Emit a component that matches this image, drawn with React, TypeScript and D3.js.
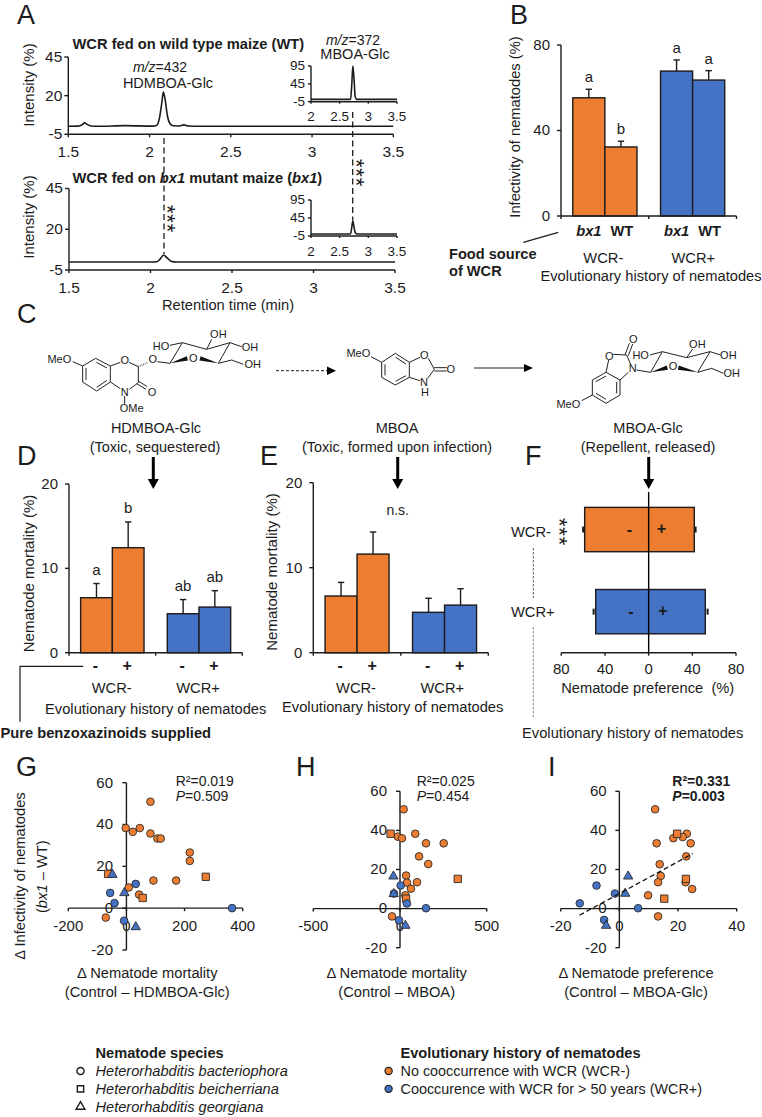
import React, { useEffect, useRef } from 'react';
import * as d3 from 'd3';

const ORANGE = '#ed7d31';
const BLUE = '#4472c4';
const INK = '#1c1c1c';
const FONT = '"Liberation Sans", Arial, sans-serif';

// A: chromatograms
const wtMainX = [1.5, 1.56, 1.585, 1.6, 1.615, 1.64, 1.68, 1.85, 2.02, 2.045, 2.06, 2.075, 2.085, 2.095, 2.11, 2.125, 2.145, 2.18, 2.21, 2.24, 2.3, 3.5];
const wtMainY = [0.2, 0.3, 1.2, 2.4, 1.4, 0.4, 0.2, 0.6, 0.3, 0.9, 5, 15, 22.3, 18, 7, 2, 0.5, 0.4, 1.1, 0.4, 0.2, 0.2];
const bx1MainX = [1.5, 2, 2.04, 2.06, 2.08, 2.1, 2.125, 2.16, 3.5];
const bx1MainY = [-0.1, -0.1, 0.1, 1.8, 4.2, 2.6, 0.4, -0.1, -0.1];
const insetX = [2, 2.66, 2.69, 2.71, 2.73, 2.75, 2.77, 2.8, 3.5];
const wtInsetY = [1.5, 1.5, 2, 40, 95, 60, 10, 1.5, 1.5];
const bx1InsetY = [0.5, 0.5, 1, 18, 37, 20, 5, 0.5, 0.5];
const mainXTicks = [1.5, 2, 2.5, 3, 3.5];
const mainYTicks = [-5, 20, 45];
const insetXTicks = [2, 2.5, 3, 3.5];
const insetYTicks = [-5, 45, 95];

// bars
const historyGroups = ['WCR-', 'WCR+'];
const foodSource = ['bx1', 'WT'];
const supplied = ['-', '+'];
const infectivity = [55.3, 32.3, 67.8, 63.6];
const infectivityTop = [59.3, 35, 73, 68];
const infectivityLetters = ['a', 'b', 'a', 'a'];
const hdmboaMortality = [6.52, 12.45, 4.62, 5.41];
const hdmboaMortalityTop = [8.2, 15.5, 6.3, 7.35];
const hdmboaLetters = ['a', 'b', 'ab', 'ab'];
const mboaMortality = [6.67, 11.6, 4.75, 5.6];
const mboaMortalityTop = [8.27, 14.2, 6.4, 7.53];
const preferenceMinus = [58.6, 48.5];
const preferenceMinusErr = [60, 50.4];
const preferencePlus = [41.8, 51.9];
const preferencePlusErr = [43, 54];
const preferenceTicks = [-80, -40, 0, 40, 80];

// G: mortality HDMBOA-Glc vs infectivity
const gOrangeCircles: [number, number][] = [[82.6, 50.9], [-2.3, 38.3], [21.8, 36.5], [45.9, 38.3], [82.6, 35.7], [106.6, 33.3], [118, 33.3], [218, 26.6], [218, 22.6], [92.9, 13.2], [171, 13.2], [8, 9.9], [43.6, 6.5], [-71, -4.5]];
const gOrangeSquares: [number, number][] = [[-63, 16.4], [56, 4.9], [273, 15]];
const gBlueCircles: [number, number][] = [[32, 11.6], [-56, 7.3], [-41, 2.4], [363.5, 0], [-8, -6]];
const gBlueTriangles: [number, number][] = [[-48, 16], [-7, 7.3], [32, -9]];

// H: mortality MBOA vs infectivity
const hOrangeCircles: [number, number][] = [[21, 50.8], [88, 38.3], [-13, 36.8], [11.5, 36], [150, 33.4], [252, 33.4], [110, 26.7], [163, 22.8], [35, 16.9], [40, 13.3], [98, 13.5], [63, 10.2], [31, 6.8], [-46, -4]];
const hOrangeSquares: [number, number][] = [[-54, 38.3], [35, 5.1], [333, 15.2]];
const hBlueCircles: [number, number][] = [[4, 11.8], [-35, 7.7], [40, 2.6], [150, 0.2], [-6, -6]];
const hBlueTriangles: [number, number][] = [[-38, 16.5], [-36, 7.5], [31, -8.7]];

// I: preference MBOA-Glc vs infectivity
const iOrangeCircles: [number, number][] = [[12.2, 50.8], [23, 38.3], [18.4, 36], [21.6, 36.6], [12.7, 33.4], [24.3, 33.4], [22.8, 26.7], [13.75, 22.7], [14.1, 16.7], [13.2, 13.5], [22.6, 13.5], [24.8, 10], [9.8, 6.8], [13.2, -4]];
const iOrangeSquares: [number, number][] = [[19.7, 38.3], [22.7, 15.2], [15.3, 5.1]];
const iBlueCircles: [number, number][] = [[-7.8, 11.8], [-1.5, 7.7], [-13.5, 2.7], [6.4, 0.2], [-5.2, -5.8]];
const iBlueTriangles: [number, number][] = [[3, 16.5], [2, 7.7], [-4.5, -8.7]];
const iTrendX = [-13.6, 25];
const iTrendY = [-3.4, 28.1];

const speciesNames = ['Heterorhabditis bacteriophora', 'Heterorhabditis beicherriana', 'Heterorhabditis georgiana'];
const historyNames = ['No cooccurrence with WCR (WCR-)', 'Cooccurence with WCR for > 50 years (WCR+)'];

type Sel = d3.Selection<any, any, any, any>;
type Part = { t: string; i?: boolean; b?: boolean };

const text = (g: Sel, s: string | Part[], x: number, y: number, size = 14.7, o: { anchor?: string; weight?: string; italic?: boolean; rotate?: boolean; fill?: string } = {}) => {
    const el = g.append('text')
        .attr('x', x)
        .attr('y', y)
        .attr('font-size', size)
        .attr('fill', o.fill || INK)
        .attr('text-anchor', o.anchor || 'middle')
        .attr('font-weight', o.weight || 'normal')
        .attr('font-style', o.italic ? 'italic' : 'normal');
    if (o.rotate) el.attr('transform', `rotate(-90 ${x} ${y})`);
    if (typeof s === 'string') el.text(s);
    else s.forEach(p => {
        el.append('tspan')
            .attr('font-style', p.i ? 'italic' : 'normal')
            .attr('font-weight', p.b ? 'bold' : o.weight || 'normal')
            .text(p.t);
    });
    return el;
};

const styleAxis = (a: Sel, size: number, sw = 1.4) => {
    a.attr('font-family', FONT).attr('font-size', size);
    a.selectAll('text').attr('fill', INK);
    a.selectAll('line').attr('stroke', INK).attr('stroke-width', sw);
    a.select('.domain').attr('stroke', INK).attr('stroke-width', sw);
};

const leftAxis = (g: Sel, y: d3.ScaleLinear<number, number>, at: number, ticks: number[], size = 15, tick = 4, pad = 4) => {
    const a = g.append('g')
        .attr('transform', `translate(${at},0)`)
        .call(d3.axisLeft(y).tickValues(ticks).tickFormat(d => String(d)).tickSize(tick).tickSizeOuter(0).tickPadding(pad).offset(0));
    styleAxis(a, size);
};

const bottomAxis = (g: Sel, x: d3.ScaleLinear<number, number>, at: number, ticks: number[], size = 15, tick = 3, pad = 5, fmt: (d: number) => string = d => String(d)) => {
    const a = g.append('g')
        .attr('transform', `translate(0,${at})`)
        .call(d3.axisBottom(x).tickValues(ticks).tickFormat(d => fmt(+d)).tickSize(tick).tickSizeOuter(0).tickPadding(pad).offset(0));
    styleAxis(a, size);
};

const trace = (g: Sel, x: d3.ScaleLinear<number, number>, y: d3.ScaleLinear<number, number>, xs: number[], ys: number[], sw = 1.6) => {
    const line = d3.line<number>()
        .x(d => x(d))
        .y((_, i) => y(ys[i]))
        .curve(d3.curveMonotoneX);
    g.append('path').datum(xs)
        .attr('fill', 'none')
        .attr('stroke', INK)
        .attr('stroke-width', sw)
        .attr('d', line);
};

// three asterisks stacked downwards, top is where the first one starts
const stars = (g: Sel, cx: number, top: number, size = 22) => {
    g.append('text')
        .attr('x', 0)
        .attr('y', 0)
        .attr('transform', `translate(${cx - size * 0.57},${top}) rotate(90)`)
        .attr('font-size', size)
        .attr('letter-spacing', 0.8)
        .attr('fill', INK)
        .text('***');
};

const downArrow = (g: Sel, x: number, y0: number, y1: number) => {
    g.append('line').attr('x1', x).attr('x2', x).attr('y1', y0).attr('y2', y1 - 8)
        .attr('stroke', 'black').attr('stroke-width', 3);
    g.append('path')
        .attr('d', `M${x - 5.5},${y1 - 10}L${x + 5.5},${y1 - 10}L${x},${y1}Z`)
        .attr('fill', 'black');
};

const barPanel = (root: Sel, o: { left: number; right: number; top: number; bottom: number; max: number; ticks: number[]; vals: number[]; tops: number[] }) => {
    const y = d3.scaleLinear().domain([0, o.max]).range([o.bottom, o.top]);
    const x0 = d3.scaleBand<string>().domain(historyGroups).range([o.left, o.right]);
    const x1 = d3.scaleBand<string>().domain(['0', '1']).range([0, x0.bandwidth()]).paddingInner(0).paddingOuter(0.367);
    const g = root.append('g');
    historyGroups.forEach((grp, gi) => {
        [0, 1].forEach(ci => {
            const i = gi * 2 + ci;
            const bx = (x0(grp) as number) + (x1(String(ci)) as number);
            const bw = x1.bandwidth();
            g.append('line')
                .attr('x1', bx + bw / 2).attr('x2', bx + bw / 2)
                .attr('y1', y(o.vals[i])).attr('y2', y(o.tops[i]))
                .attr('stroke', INK).attr('stroke-width', 1.4);
            g.append('line')
                .attr('x1', bx + bw / 2 - 3.2).attr('x2', bx + bw / 2 + 3.2)
                .attr('y1', y(o.tops[i])).attr('y2', y(o.tops[i]))
                .attr('stroke', INK).attr('stroke-width', 1.4);
            g.append('rect')
                .attr('x', bx).attr('y', y(o.vals[i]))
                .attr('width', bw).attr('height', o.bottom - y(o.vals[i]))
                .attr('fill', gi === 0 ? ORANGE : BLUE)
                .attr('stroke', INK).attr('stroke-width', 1.4);
        });
    });
    leftAxis(g, y, o.left, o.ticks, 15, 4, 7);
    const groupX = d3.scaleLinear().domain([0, 2]).range([o.left, o.right]);
    bottomAxis(g, groupX, o.bottom, [0, 1, 2], 10, 3, 3, () => '');
    return { x0, x1, y };
};

const scatterPanel = (root: Sel, o: {
    xDom: [number, number]; xRange: [number, number]; yRange: [number, number]; xTicks: number[]; labelX: number;
    orange: [number, number][]; squares: [number, number][]; blue: [number, number][]; tris: [number, number][];
}) => {
    const g = root.append('g');
    const x = d3.scaleLinear().domain(o.xDom).range(o.xRange);
    const y = d3.scaleLinear().domain([-20, 60]).range(o.yRange);
    const ticksY = [-20, 0, 20, 40, 60];
    const xa = g.append('g')
        .attr('transform', `translate(0,${y(0)})`)
        .call(d3.axisBottom(x).tickValues(o.xTicks).tickFormat(d => String(d)).tickSize(3).tickSizeOuter(0).tickPadding(9).offset(0));
    styleAxis(xa, 15);
    const ya = g.append('g')
        .attr('transform', `translate(${x(0)},0)`)
        .call(d3.axisLeft(y).tickValues(ticksY).tickFormat(d => String(d)).tickSize(4).tickSizeOuter(0).tickPadding(x(0) - o.labelX - 4).offset(0));
    styleAxis(ya, 15);
    const mark = (pts: [number, number][], type: d3.SymbolType, size: number, fill: string) => {
        g.selectAll(null).data(pts).enter().append('path')
            .attr('d', d3.symbol().type(type).size(size)())
            .attr('transform', d => `translate(${x(d[0])},${y(d[1])})`)
            .attr('fill', fill)
            .attr('stroke', '#2a2a2a')
            .attr('stroke-width', 0.9);
    };
    mark(o.orange, d3.symbolCircle, 46, ORANGE);
    mark(o.squares, d3.symbolSquare, 54, ORANGE);
    mark(o.blue, d3.symbolCircle, 46, BLUE);
    mark(o.tris, d3.symbolTriangle, 38, BLUE);
    return { g, x, y };
};

// chemical drawings, in sketch units of a third of a pixel
type Segs = number[][];
const molecule = (root: Sel, ox: number, oy: number, segs: Segs, wedges: Segs, labels: [string, number, number][], hashes: Segs = []) => {
    const g = root.append('g').attr('transform', `translate(${ox},${oy}) scale(${1 / 3})`);
    segs.forEach(s => {
        g.append('line').attr('x1', s[0]).attr('y1', s[1]).attr('x2', s[2]).attr('y2', s[3])
            .attr('stroke', '#222').attr('stroke-width', 3);
    });
    wedges.forEach(s => {
        const nx = -(s[3] - s[1]), ny = s[2] - s[0];
        const l = Math.hypot(nx, ny);
        const w = 6.5;
        g.append('path')
            .attr('d', `M${s[0]},${s[1]}L${s[2] + nx / l * w},${s[3] + ny / l * w}L${s[2] - nx / l * w},${s[3] - ny / l * w}Z`)
            .attr('fill', '#111');
    });
    hashes.forEach(s => {
        g.append('line').attr('x1', s[0]).attr('y1', s[1]).attr('x2', s[2]).attr('y2', s[3])
            .attr('stroke', '#222').attr('stroke-width', 6).attr('stroke-dasharray', '1.5,4');
    });
    labels.forEach(l => {
        g.append('text')
            .attr('x', l[1]).attr('y', l[2] + 12)
            .attr('font-size', 33)
            .attr('text-anchor', 'middle')
            .attr('fill', '#1a1a1a')
            .text(l[0]);
    });
};

const App: React.FC = () => {
    const svgRef = useRef<SVGSVGElement>(null);

    useEffect(() => {
        if (!svgRef.current) return;
        const svg = d3.select(svgRef.current);
        svg.selectAll('*').remove();
        const root: Sel = svg.append('g').attr('font-family', FONT);

        // panel letters
        ([['A', 17, 24], ['B', 510, 24], ['C', 17, 323], ['D', 17, 465], ['E', 260, 465], ['F', 525, 465], ['G', 16, 776], ['H', 296, 776], ['I', 548, 776]] as [string, number, number][])
            .forEach(l => text(root, l[0], l[1], l[2], 27, { anchor: 'start' }));

        // A, upper trace
        const ax = d3.scaleLinear().domain([1.5, 3.5]).range([68.3, 393.3]);
        const ayTop = d3.scaleLinear().domain([-5, 45]).range([134.3, 57]);
        const ax2 = d3.scaleLinear().domain([1.5, 3.5]).range([69, 395]);
        const ayBot = d3.scaleLinear().domain([-5, 45]).range([270, 188.5]);
        const a = root.append('g');
        leftAxis(a, ayTop, 68.3, mainYTicks, 15.5, 4, 2);
        bottomAxis(a, ax, 134.3, mainXTicks, 15.5, 3, 8.7);
        trace(a, ax, ayTop, wtMainX, wtMainY);
        leftAxis(a, ayBot, 69, mainYTicks, 15.5, 4, 2);
        bottomAxis(a, ax2, 270, mainXTicks, 15.5, 3, 9);
        trace(a, ax2, ayBot, bx1MainX, bx1MainY);

        // A, insets
        const ix = d3.scaleLinear().domain([2, 3.5]).range([311, 397]);
        const iyTop = d3.scaleLinear().domain([-5, 95]).range([101.7, 66]);
        const iyBot = d3.scaleLinear().domain([-5, 95]).range([236, 200]);
        leftAxis(a, iyTop, 311, insetYTicks, 13.5, 3, 3);
        bottomAxis(a, ix, 101.7, insetXTicks, 13.5, 2, 7.8);
        trace(a, ix, iyTop, insetX, wtInsetY);
        leftAxis(a, iyBot, 311, insetYTicks, 13.5, 3, 3);
        bottomAxis(a, ix, 236, insetXTicks, 13.5, 2, 8.8);
        trace(a, ix, iyBot, insetX, bx1InsetY);

        a.append('line').attr('x1', 164).attr('x2', 164).attr('y1', 138).attr('y2', 254)
            .attr('stroke', INK).attr('stroke-width', 1.3).attr('stroke-dasharray', '6,3.5');
        a.append('line').attr('x1', 352.7).attr('x2', 352.7).attr('y1', 112).attr('y2', 220)
            .attr('stroke', INK).attr('stroke-width', 1.3).attr('stroke-dasharray', '6,3.5');
        stars(a, 362, 159);
        stars(a, 173, 205);

        text(a, 'WCR fed on wild type maize (WT)', 72.5, 49, 14.7, { anchor: 'start', weight: 'bold' });
        text(a, [{ t: 'WCR fed on ' }, { t: 'bx1', i: true }, { t: ' mutant maize (' }, { t: 'bx1', i: true }, { t: ')' }], 72.5, 183, 14.7, { anchor: 'start', weight: 'bold' });
        text(a, [{ t: 'm/z', i: true }, { t: '=432' }], 160, 72, 14);
        text(a, 'HDMBOA-Glc', 168, 88, 14.5);
        text(a, [{ t: 'm/z', i: true }, { t: '=372' }], 353, 45, 14);
        text(a, 'MBOA-Glc', 355, 59, 14.5);
        text(a, 'Intensity (%)', 34, 85, 15, { rotate: true });
        text(a, 'Intensity (%)', 34, 217, 15, { rotate: true });
        text(a, 'Retention time (min)', 228, 310, 14.7);

        // B
        const b = barPanel(root, { left: 561, right: 736.5, top: 45, bottom: 216, max: 80, ticks: [0, 40, 80], vals: infectivity, tops: infectivityTop });
        const barCenter = (r: typeof b, gi: number, ci: number) => (r.x0(historyGroups[gi]) as number) + (r.x1(String(ci)) as number) + r.x1.bandwidth() / 2;
        infectivityLetters.forEach((l, i) => {
            text(root, l, barCenter(b, i >> 1, i % 2), b.y(infectivityTop[i]) - 7, 15);
        });
        historyGroups.forEach((_, gi) => foodSource.forEach((f, ci) => {
            text(root, f, barCenter(b, gi, ci) + (ci ? 1 : 0), 235.5, 14.7, { weight: 'bold', italic: f === 'bx1' });
        }));
        root.append('line').attr('x1', 523.3).attr('y1', 242.3).attr('x2', 558.3).attr('y2', 232.3)
            .attr('stroke', INK).attr('stroke-width', 1.2);
        text(root, 'Food source', 449, 258.5, 14.6, { anchor: 'start', weight: 'bold' });
        text(root, 'of WCR', 449, 276, 14.6, { anchor: 'start', weight: 'bold' });
        text(root, 'WCR-', 603.3, 263);
        text(root, 'WCR+', 693.3, 263);
        text(root, 'Evolutionary history of nematodes', 651, 280.7);
        text(root, 'Infectivity of nematodes (%)', 520, 127, 14.7, { rotate: true });

        // C
        molecule(root, 30, 330,
            [[128, 95, 158, 108], [158, 108, 197, 85], [197, 85, 241, 108], [241, 108, 241, 156], [241, 156, 200, 183], [200, 183, 158, 156], [158, 156, 158, 108],
            [168, 114, 168, 150], [199, 97, 231, 114], [231, 151, 200, 172],
            [241, 108, 271, 97], [297, 97, 325, 110], [325, 110, 325, 158], [325, 158, 298, 178], [241, 156, 271, 176],
            [325, 153, 352, 170], [320, 161, 348, 178], [284, 198, 284, 222],
            [382, 95, 420, 100], [420, 100, 457, 38], [457, 38, 530, 58], [530, 58, 600, 38], [600, 38, 565, 100], [565, 100, 605, 90], [605, 90, 640, 103],
            [600, 38, 635, 50], [530, 58, 545, 28], [457, 38, 420, 46]],
            [[420, 100, 472, 85], [565, 100, 510, 85]],
            [['MeO', 88, 88], ['O', 284, 90], ['N', 284, 186], ['O', 366, 186], ['OMe', 305, 235], ['O', 368, 88], ['O', 490, 85], ['HO', 393, 48], ['OH', 565, 13], ['OH', 660, 50], ['OH', 668, 103]],
            [[325, 110, 355, 97]]);
        molecule(root, 270, 340,
            [[303, 50, 335, 67], [335, 67, 376, 40], [376, 40, 418, 67], [418, 67, 418, 112], [418, 112, 376, 135], [376, 135, 335, 112], [335, 112, 335, 67],
            [345, 73, 345, 106], [377, 52, 408, 72], [408, 107, 377, 124],
            [418, 67, 450, 52], [475, 55, 493, 88], [418, 112, 450, 122], [473, 115, 493, 88], [493, 83, 530, 83], [493, 93, 530, 93]],
            [],
            [['MeO', 265, 38], ['O', 463, 46], ['O', 542, 88], ['N', 462, 125], ['H', 465, 155]]);
        molecule(root, 510, 335,
            [[215, 197, 247, 180], [247, 135, 288, 112], [288, 112, 330, 135], [330, 135, 330, 180], [330, 180, 288, 205], [288, 205, 247, 180], [247, 180, 247, 135],
            [257, 140, 288, 123], [320, 141, 320, 175], [258, 175, 288, 193],
            [288, 112, 296, 75], [310, 58, 350, 60], [350, 60, 362, 88], [355, 112, 330, 135], [345, 60, 358, 25], [355, 62, 368, 27],
            [380, 105, 422, 112], [422, 112, 457, 50], [457, 50, 530, 68], [530, 68, 600, 50], [600, 50, 563, 112], [563, 112, 605, 100], [605, 100, 640, 115],
            [600, 50, 632, 60], [530, 68, 548, 42], [457, 50, 420, 60]],
            [[422, 112, 472, 98], [563, 112, 505, 98]],
            [['MeO', 175, 207], ['O', 298, 62], ['O', 370, 12], ['N', 368, 100], ['O', 489, 92], ['HO', 392, 60], ['OH', 562, 28], ['OH', 655, 60], ['OH', 665, 113]]);
        text(root, 'HDMBOA-Glc', 156, 433, 14.5);
        text(root, '(Toxic, sequestered)', 155, 452, 14.5);
        text(root, 'MBOA', 397, 433, 14.5);
        text(root, '(Toxic, formed upon infection)', 397, 452, 14.5);
        text(root, 'MBOA-Glc', 648, 433, 14.5);
        text(root, '(Repellent, released)', 648, 452, 14.5);
        // pathway arrows
        root.append('line').attr('x1', 276).attr('x2', 327).attr('y1', 370.7).attr('y2', 370.7)
            .attr('stroke', INK).attr('stroke-width', 1).attr('stroke-dasharray', '3,2');
        root.append('path').attr('d', 'M327,366.5L336,370.7L327,375Z').attr('fill', 'black');
        root.append('line').attr('x1', 474).attr('x2', 524).attr('y1', 368).attr('y2', 368)
            .attr('stroke', INK).attr('stroke-width', 1);
        root.append('path').attr('d', 'M524,364L533,368L524,372Z').attr('fill', 'black');
        downArrow(root, 153.3, 457, 489);
        downArrow(root, 397.7, 457, 489);
        downArrow(root, 648.7, 457, 489);

        // D
        const d = barPanel(root, { left: 69, right: 242.3, top: 484, bottom: 652.7, max: 20, ticks: [0, 10, 20], vals: hdmboaMortality, tops: hdmboaMortalityTop });
        hdmboaLetters.forEach((l, i) => {
            text(root, l, barCenter(d, i >> 1, i % 2), d.y(hdmboaMortalityTop[i]) - 8.5, 15);
        });
        const signRow = (r: typeof d) => historyGroups.forEach((_, gi) => supplied.forEach((s, ci) => {
            text(root, s, barCenter(r, gi, ci) - 1, 671, 16, { weight: 'bold' });
        }));
        signRow(d);
        text(root, 'WCR-', 111.7, 693);
        text(root, 'WCR+', 198, 693);
        text(root, 'Evolutionary history of nematodes', 155.7, 714.3);
        text(root, 'Nematode mortality (%)', 34, 573.5, 15, { rotate: true });
        root.append('path').attr('d', 'M83.3,666.3H20V721.7').attr('fill', 'none').attr('stroke', INK).attr('stroke-width', 1.2);
        text(root, 'Pure benzoxazinoids supplied', 0.5, 737.7, 14.7, { anchor: 'start', weight: 'bold' });

        // E
        const e = barPanel(root, { left: 313.3, right: 488.3, top: 482.7, bottom: 652.7, max: 20, ticks: [0, 10, 20], vals: mboaMortality, tops: mboaMortalityTop });
        signRow(e);
        text(root, 'n.s.', 397.7, 515, 14);
        text(root, 'WCR-', 356, 693);
        text(root, 'WCR+', 442.3, 693);
        text(root, 'Evolutionary history of nematodes', 392.7, 712.3);
        text(root, 'Nematode mortality (%)', 276.7, 572, 15, { rotate: true });

        // F
        const fx = d3.scaleLinear().domain([-80, 80]).range([561.3, 736]);
        const fy = d3.scaleBand<string>().domain(historyGroups).range([488.5, 652.7]).paddingInner(0.46).paddingOuter(0.23);
        const f = root.append('g');
        historyGroups.forEach((grp, i) => {
            const top = fy(grp) as number;
            const mid = top + fy.bandwidth() / 2;
            [-preferenceMinusErr[i], preferencePlusErr[i]].forEach(v => {
                f.append('line').attr('x1', fx(v)).attr('x2', fx(v)).attr('y1', mid - 3).attr('y2', mid + 3)
                    .attr('stroke', INK).attr('stroke-width', 2);
            });
            f.append('rect')
                .attr('x', fx(-preferenceMinus[i])).attr('y', top)
                .attr('width', fx(preferencePlus[i]) - fx(-preferenceMinus[i]))
                .attr('height', fy.bandwidth())
                .attr('fill', i === 0 ? ORANGE : BLUE)
                .attr('stroke', INK).attr('stroke-width', 1.4);
            text(f, '-', i === 0 ? 629.3 : 631, mid + 5, 16, { weight: 'bold' });
            text(f, '+', i === 0 ? 661.3 : 663, mid + 4, 16, { weight: 'bold' });
            text(f, grp, 511, i === 0 ? 536.7 : 616.7, 14.7, { anchor: 'start' });
        });
        f.append('line').attr('x1', fx(0)).attr('x2', fx(0)).attr('y1', 492).attr('y2', 652.7)
            .attr('stroke', 'black').attr('stroke-width', 1.4);
        bottomAxis(f, fx, 652.7, preferenceTicks, 15, 3, 7.6, v => String(Math.abs(v)));
        stars(f, 565, 518);
        f.append('line').attr('x1', 533.3).attr('x2', 533.3).attr('y1', 548).attr('y2', 598)
            .attr('stroke', '#444').attr('stroke-width', 0.9).attr('stroke-dasharray', '2.5,1.5');
        f.append('line').attr('x1', 533.3).attr('x2', 533.3).attr('y1', 627).attr('y2', 717)
            .attr('stroke', '#777').attr('stroke-width', 0.9).attr('stroke-dasharray', '2.5,1.5');
        text(f, 'Nematode preference  (%)', 647.7, 692.7).style('white-space', 'pre');
        text(f, 'Evolutionary history of nematodes', 632.7, 737.7);

        // G
        scatterPanel(root, { xDom: [-200, 400], xRange: [68.3, 242.7], yRange: [950, 782.7], xTicks: [-200, 0, 200, 400], labelX: 113, orange: gOrangeCircles, squares: gOrangeSquares, blue: gBlueCircles, tris: gBlueTriangles });
        text(root, 'R²=0.019', 175.7, 785.7, 14, { anchor: 'start' });
        text(root, [{ t: 'P', i: true }, { t: '=0.509' }], 175.7, 801, 14, { anchor: 'start' });
        text(root, 'Δ Infectivity of nematodes', 25, 876, 14.7, { rotate: true });
        text(root, [{ t: '(' }, { t: 'bx1', i: true }, { t: ' – WT)' }], 46.7, 876.7, 14.7, { rotate: true });
        text(root, 'Δ Nematode mortality', 147.3, 978);
        text(root, '(Control – HDMBOA-Glc)', 147.3, 997);

        // H
        scatterPanel(root, { xDom: [-500, 500], xRange: [313.3, 486.7], yRange: [947.7, 791.3], xTicks: [-500, 0, 500], labelX: 387, orange: hOrangeCircles, squares: hOrangeSquares, blue: hBlueCircles, tris: hBlueTriangles });
        text(root, 'R²=0.025', 416.7, 785.7, 14, { anchor: 'start' });
        text(root, [{ t: 'P', i: true }, { t: '=0.454' }], 416.7, 801, 14, { anchor: 'start' });
        text(root, 'Δ Nematode mortality', 396.7, 978);
        text(root, '(Control – MBOA)', 396.7, 997);

        // I
        const iPanel = scatterPanel(root, { xDom: [-20, 40], xRange: [560.7, 736.7], yRange: [947.7, 791.3], xTicks: [-20, 0, 20, 40], labelX: 606.7, orange: iOrangeCircles, squares: iOrangeSquares, blue: iBlueCircles, tris: iBlueTriangles });
        iPanel.g.append('line')
            .attr('x1', iPanel.x(iTrendX[0])).attr('y1', iPanel.y(iTrendY[0]))
            .attr('x2', iPanel.x(iTrendX[1])).attr('y2', iPanel.y(iTrendY[1]))
            .attr('stroke', '#111').attr('stroke-width', 1.3).attr('stroke-dasharray', '5,3');
        text(root, 'R²=0.331', 672.3, 785.7, 14, { anchor: 'start', weight: 'bold' });
        text(root, [{ t: 'P', i: true }, { t: '=0.003' }], 672.3, 801, 14, { anchor: 'start', weight: 'bold' });
        text(root, 'Δ Nematode preference', 636, 978);
        text(root, '(Control – MBOA-Glc)', 636, 997);

        // legends
        const rows = d3.scalePoint<number>().domain([0, 1, 2]).range([1076, 1111.7]);
        text(root, 'Nematode species', 95.5, 1057.7, 14.6, { anchor: 'start', weight: 'bold' });
        const speciesSymbols = [d3.symbolCircle, d3.symbolSquare, d3.symbolTriangle];
        speciesNames.forEach((n, i) => {
            const ry = rows(i) as number;
            root.append('path')
                .attr('d', d3.symbol().type(speciesSymbols[i]).size(i === 2 ? 34 : 40)())
                .attr('transform', `translate(80.5,${ry - 5})`)
                .attr('fill', 'white').attr('stroke', INK).attr('stroke-width', 1.4);
            text(root, n, 95.5, ry, 14.6, { anchor: 'start', italic: true });
        });
        text(root, 'Evolutionary history of nematodes', 400.5, 1057.7, 14.6, { anchor: 'start', weight: 'bold' });
        historyNames.forEach((n, i) => {
            const ry = rows(i) as number;
            root.append('circle')
                .attr('cx', 388.6).attr('cy', ry - 5).attr('r', 3.6)
                .attr('fill', i === 0 ? ORANGE : BLUE)
                .attr('stroke', INK).attr('stroke-width', 1.2);
            text(root, n, 400.5, ry, 14.4, { anchor: 'start' });
        });
    }, []);

    return (
        <svg
            ref={svgRef}
            width={762}
            height={1117}
            style={{ position: 'absolute', left: 0, top: 0, display: 'block', background: 'white' }}
        />
    );
};

export default App;
